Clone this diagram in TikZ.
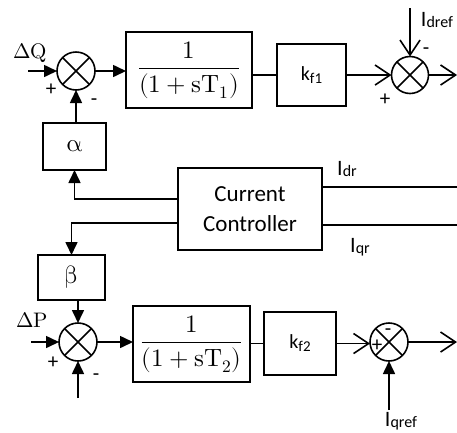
\documentclass[tikz,border=0pt]{standalone}
\usepackage{amsmath}
\usepackage{fontspec}
\usepackage{unicode-math}
\setmainfont{Carlito}
\setmathfont{Latin Modern Math}
\usetikzlibrary{arrows.meta}
\newcommand{\lsub}[4]{#1\raisebox{-#4}{\fontsize{#3}{#3}\selectfont #2}}
\begin{document}
\begin{tikzpicture}[x=1pt,y=-1pt,
  every node/.style={inner sep=0pt, outer sep=0pt},
  box/.style={draw, line width=1.6pt, rectangle},
  summer/.style={draw, line width=1.6pt, circle, minimum size=38pt},
  ln/.style={line width=1.6pt},
  fa/.style={ln, -{Triangle[length=13pt,width=12pt]}},
  oa/.style={ln, -{Straight Barb[length=15pt,width=20pt]}},
  ilbl/.style={font=\fontsize{22}{24}\selectfont},
  klbl/.style={font=\fontsize{20}{22}\selectfont},
  cclbl/.style={font=\fontsize{23}{30}\selectfont},
  sgn/.style={font=\fontsize{21}{21}\selectfont},
  frac/.style={font=\fontsize{25}{27}\selectfont},
  mth/.style={font=\fontsize{21}{23}\selectfont}]
\useasboundingbox (0,0) rectangle (457,432);
% boxes
\node[box, minimum width=126pt, minimum height=76pt, frac] (b1) at (189,70) {$\dfrac{1}{(1+\symup{sT}_1)}$};
\node[box, minimum width=69pt, minimum height=62pt, klbl] (k1) at (311.5,75) {\lsub{k}{f1}{15}{3pt}};
\node[box, minimum width=63pt, minimum height=47pt, frac] (al) at (74.5,146.5) {$\upalpha$};
\node[box, minimum width=144pt, minimum height=82pt, cclbl, align=center] (cc) at (250,209) {Current\\Controller};
\node[box, minimum width=67pt, minimum height=45pt, frac] (be) at (71.5,277.5) {$\upbeta$};
\node[box, minimum width=117pt, minimum height=76pt, frac] (b2) at (191.5,344) {$\dfrac{1}{(1+\symup{sT}_2)}$};
\node[box, minimum width=72pt, minimum height=63pt, klbl] (k2) at (300,343.5) {\lsub{k}{f2}{15}{3pt}};
% summers
\node[summer] (s1) at (76,71) {};
\node[summer, minimum size=37pt] (s2) at (410,75) {};
\node[summer] (s3) at (78,342) {};
\node[summer] (s4) at (389,342) {};
\foreach \s in {s1,s2,s3,s4}{
  \draw[ln] (\s.north west) -- (\s.south east);
  \draw[ln] (\s.north east) -- (\s.south west);
}
% coordinates
\coordinate (inQ) at (28,71);
\coordinate (idref) at (410,8);
\coordinate (out1) at (457,75);
\coordinate (ccA) at (178,199);
\coordinate (ccB) at (178,223);
\coordinate (odr) at (457,187);
\coordinate (oqr) at (457,225);
\coordinate (inP) at (31,342);
\coordinate (inPb) at (78,398);
\coordinate (out2) at (457,342);
\coordinate (iqref) at (389,410);
% connectors top
\draw[fa] (inQ) -- (s1.west);
\draw[fa] (s1.east) -- (s1.east -| b1.west);
\draw[fa] (s1.south |- al.north) -- (s1.south);
\draw[ln] (b1.east |- k1.west) -- (k1.west);
\draw[oa] (k1.east) -- (k1.east -| s2.west);
\draw[oa] (idref) -- (s2.north);
\draw[oa] (s2.east) -- (out1);
% controller
\draw[fa] (ccA) -| (al.south);
\draw[fa] (ccB) -| (be.north);
\draw[ln] (odr -| cc.east) -- (odr);
\draw[ln] (oqr -| cc.east) -- (oqr);
% bottom
\draw[fa] (be.south -| s3.north) -- (s3.north);
\draw[fa] (inP) -- (s3.west);
\draw[fa] (inPb) -- (s3.south);
\draw[fa] (s3.east) -- (s3.east -| b2.west);
\draw[ln] (b2.east |- k2.west) -- (k2.west);
\draw[oa] (k2.east) -- (k2.east -| s4.west);
\draw[oa] (s4.east) -- (out2);
\draw[fa] (iqref) -- (s4.south);
% labels
\node[mth] (lQ) at (30,53) {$\Delta\symup{Q}$};
\node[sgn] (p1) at (51,90) {+};
\node[sgn] (m1) at (94,102) {-};
\node[ilbl] (lIdref) at (437,20) {\lsub{I}{dref}{16}{1pt}};
\node[sgn] (m2) at (426,51) {-};
\node[sgn] (p2) at (385,100) {+};
\node[ilbl] (lIdr) at (347,169) {\lsub{I}{dr}{16}{1pt}};
\node[ilbl] (lIqr) at (360,247) {\lsub{I}{qr}{16}{1pt}};
\node[mth] (lP) at (32,320) {$\Delta\symup{P}$};
\node[sgn] (p3) at (53,363) {+};
\node[sgn] (m3) at (96,377) {-};
\node[sgn] (m4) at (388,332) {-};
\node[sgn] (p4) at (377,346) {+};
\node[ilbl] (lIqref) at (401,421) {\lsub{I}{qref}{16}{1pt}};
\end{tikzpicture}
\end{document}
